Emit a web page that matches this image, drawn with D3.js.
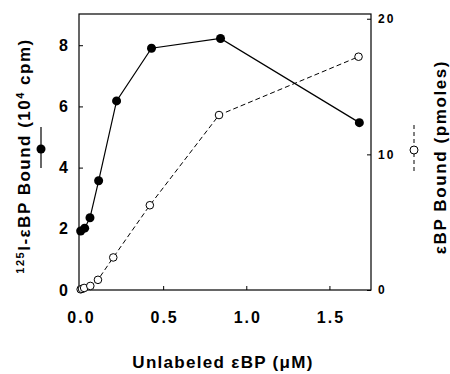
<!DOCTYPE html>
<html>
<head>
<meta charset="utf-8">
<style>
  body { margin: 0; background: #fff; }
  svg { font-family: "Liberation Sans", Arial, sans-serif; font-weight: bold; }
</style>
</head>
<body>
<svg width="450" height="374"></svg>
<script src="https://d3js.org/d3.v7.min.js"></script>
<script>
// filled circles: 125I-eBP bound (10^4 cpm), left axis
var cpmX = [0.004, 0.028, 0.06, 0.112, 0.22, 0.43, 0.845, 1.68];
var cpmY = [1.93, 2.02, 2.36, 3.57, 6.18, 7.9, 8.22, 5.47];
// open circles: eBP bound (pmoles), right axis
var pmolX = [0.004, 0.012, 0.025, 0.062, 0.108, 0.2, 0.42, 0.836, 1.675];
var pmolY = [0.05, 0.08, 0.15, 0.3, 0.75, 2.4, 6.25, 12.9, 17.2];
var xTicks = [0.0, 0.5, 1.0, 1.5];
var leftTicks = [0, 2, 4, 6, 8];
var rightTicks = [0, 10, 20];

function draw() {
  var svg = d3.select("svg"),
      pl = 79, pr = 371, pt = 14, pb = 290;

  var x = d3.scaleLinear().domain([-0.006, 1.75]).range([pl, pr]);
  var yL = d3.scaleLinear().domain([0, 9.02]).range([pb, pt]);
  var yR = d3.scaleLinear().domain([0, 20.35]).range([pb, pt]);

  // frame
  svg.append("rect").attr("x", pl).attr("y", pt)
      .attr("width", pr - pl).attr("height", pb - pt)
      .attr("fill", "none").attr("stroke", "#000").attr("stroke-width", 1.2);

  // axes, ticks pointing inward
  var gx = svg.append("g").attr("transform", "translate(0," + pb + ")")
      .call(d3.axisBottom(x).tickValues(xTicks).tickFormat(d3.format(".1f")).tickSizeInner(-4).tickSizeOuter(0).tickPadding(22));
  var gl = svg.append("g").attr("transform", "translate(" + pl + ",0)")
      .call(d3.axisLeft(yL).tickValues(leftTicks).tickFormat(d3.format("d")).tickSizeInner(-4).tickSizeOuter(0).tickPadding(11));
  var gr = svg.append("g").attr("transform", "translate(" + pr + ",0)")
      .call(d3.axisRight(yR).tickValues(rightTicks).tickFormat(d3.format("d")).tickSizeInner(-4).tickSizeOuter(0).tickPadding(7));
  [gx, gl, gr].forEach(function(g) {
    g.select(".domain").remove();
    g.selectAll("text").attr("font-family", null).attr("fill", "#000");
  });
  gx.selectAll("text").attr("font-size", 16).attr("letter-spacing", 2).attr("dx", 1);
  gl.selectAll("text").attr("font-size", 16);
  gr.selectAll("text").attr("font-size", 12).attr("letter-spacing", 2);

  // lines
  var lineL = d3.line().x(function(d, i) { return x(cpmX[i]); }).y(function(d) { return yL(d); });
  var lineR = d3.line().x(function(d, i) { return x(pmolX[i]); }).y(function(d) { return yR(d); });

  svg.append("path").attr("d", lineR(pmolY)).attr("fill", "none")
      .attr("stroke", "#000").attr("stroke-width", 1).attr("stroke-dasharray", "5,3");
  svg.append("path").attr("d", lineL(cpmY)).attr("fill", "none")
      .attr("stroke", "#000").attr("stroke-width", 1.2);

  svg.selectAll(".open").data(pmolY).enter().append("circle")
      .attr("cx", function(d, i) { return x(pmolX[i]); })
      .attr("cy", function(d) { return yR(d); })
      .attr("r", 3.8).attr("fill", "#fff").attr("stroke", "#000").attr("stroke-width", 1);
  svg.selectAll(".filled").data(cpmY).enter().append("circle")
      .attr("cx", function(d, i) { return x(cpmX[i]); })
      .attr("cy", function(d) { return yL(d); })
      .attr("r", 4.5).attr("fill", "#000");

  // axis titles
  svg.append("text").attr("transform", "translate(223,368)")
      .attr("text-anchor", "middle").attr("font-size", 17).attr("letter-spacing", 1.3)
      .text("Unlabeled εBP (μM)");

  var lt = svg.append("text").attr("transform", "translate(30,156) rotate(-90)")
      .attr("text-anchor", "middle").attr("font-size", 17).attr("letter-spacing", 1.5);
  lt.append("tspan").attr("font-size", 11).attr("dy", -6).text("125");
  lt.append("tspan").attr("dy", 6).text("I-εBP Bound (10");
  lt.append("tspan").attr("font-size", 11).attr("dy", -6).text("4");
  lt.append("tspan").attr("dy", 6).text(" cpm)");

  svg.append("text").attr("transform", "translate(446,157) rotate(-90)")
      .attr("text-anchor", "middle").attr("font-size", 17).attr("letter-spacing", 1.6)
      .text("εBP Bound (pmoles)");

  // legend keys beside titles
  svg.append("line").attr("x1", 41).attr("x2", 41).attr("y1", 127).attr("y2", 168)
      .attr("stroke", "#000").attr("stroke-width", 1.2);
  svg.append("circle").attr("cx", 41).attr("cy", 149).attr("r", 4.5).attr("fill", "#000");
  svg.append("line").attr("x1", 414).attr("x2", 414).attr("y1", 125).attr("y2", 174)
      .attr("stroke", "#000").attr("stroke-width", 1).attr("stroke-dasharray", "4,3");
  svg.append("circle").attr("cx", 414).attr("cy", 150).attr("r", 4).attr("fill", "#fff")
      .attr("stroke", "#000").attr("stroke-width", 1);
}
draw();
</script>
</body>
</html>
